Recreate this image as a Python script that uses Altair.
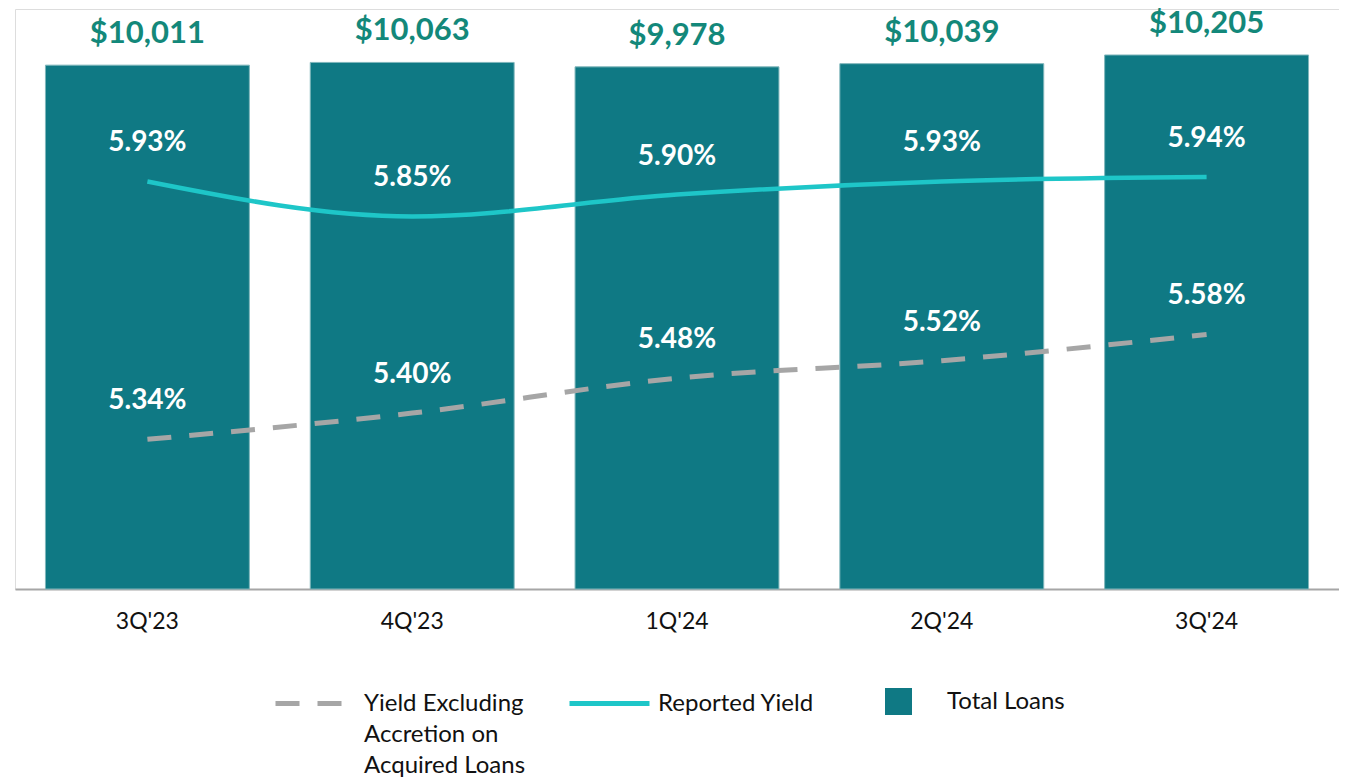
import altair as alt
import pandas as pd

quarters = ["3Q'23", "4Q'23", "1Q'24", "2Q'24", "3Q'24"]
total_loans = [10011, 10063, 9978, 10039, 10205]
reported_yield = [5.93, 5.85, 5.90, 5.93, 5.94]
yield_excl = [5.34, 5.40, 5.48, 5.52, 5.58]

series_names = ["Yield Excluding Accretion on Acquired Loans", "Reported Yield", "Total Loans"]
series_colors = ["#A6A6A6", "#1EC6C8", "#0F7984"]

df = pd.DataFrame({"q": quarters, "loans": total_loans, "rep": reported_yield, "exc": yield_excl})

FONT = "Lato"
EXC, REP, TOT = series_names

x_enc = alt.X(
    "q:N", sort=quarters,
    scale=alt.Scale(paddingInner=0.23, paddingOuter=0.115),
    axis=alt.Axis(title=None, labelAngle=0, ticks=False, tickSize=0, domainColor="#A6A6A6",
                  domainWidth=2, labelFont=FONT, labelFontSize=23, labelColor="#111111",
                  labelPadding=21),
)
loan_scale = alt.Scale(domain=[0, 11084], nice=False, zero=True)
yield_scale = alt.Scale(domain=[4.9975, 6.3247], nice=False, zero=False)

leg_common = dict(title=None, orient="none", labelFont=FONT, labelFontSize=24,
                  labelColor="#111111", labelLimit=400, padding=0, symbolOpacity=1,
                  labelBaseline="middle")

legend_exc = alt.Legend(
    legendX=258, legendY=659, symbolType="stroke", symbolSize=4356, symbolStrokeWidth=5,
    symbolStrokeColor=series_colors[0], labelOffset=20,
    labelExpr="['Yield Excluding', 'Accretion on', 'Acquired Loans']",
    **leg_common,
)
legend_rep = alt.Legend(
    legendX=552, legendY=652, symbolType="stroke", symbolSize=6400, symbolStrokeWidth=5,
    labelOffset=6, **leg_common,
)
legend_tot = alt.Legend(
    legendX=870, legendY=679, symbolType="square", symbolSize=729, symbolStrokeWidth=0,
    labelOffset=35, **leg_common,
)

base = alt.Chart(df)

bars = base.transform_calculate(series=f"'{TOT}'").mark_bar(
    stroke="#7FB6BB", strokeWidth=1
).encode(
    x=x_enc,
    y=alt.Y("loans:Q", scale=loan_scale, axis=None),
    fill=alt.Fill("series:N", scale=alt.Scale(domain=[TOT], range=[series_colors[2]]),
                  legend=legend_tot),
)

bar_text = base.mark_text(
    font=FONT, fontWeight="bold", fontSize=31, color="#13887A", dy=-31, baseline="middle"
).encode(
    x=x_enc,
    y=alt.Y("loans:Q", scale=loan_scale, axis=None),
    text=alt.Text("loans:Q", format="$,"),
)

line_exc = base.transform_calculate(series=f"'{EXC}'").mark_line(
    strokeWidth=5, color=series_colors[0], interpolate="monotone"
).encode(
    x=x_enc,
    y=alt.Y("exc:Q", scale=yield_scale, axis=None),
    strokeDash=alt.StrokeDash("series:N", scale=alt.Scale(domain=[EXC], range=[[24, 18]]),
                              legend=legend_exc),
)

line_rep = base.transform_calculate(series=f"'{REP}'").mark_line(
    strokeWidth=4.5, interpolate="monotone"
).encode(
    x=x_enc,
    y=alt.Y("rep:Q", scale=yield_scale, axis=None),
    color=alt.Color("series:N", scale=alt.Scale(domain=[REP], range=[series_colors[1]]),
                    legend=legend_rep),
)

pct_style = dict(font=FONT, fontWeight="bold", fontSize=28, color="white", dy=-38, baseline="middle")

txt_rep = base.transform_calculate(lbl="format(datum.rep, '.2f') + '%'").mark_text(**pct_style).encode(
    x=x_enc, y=alt.Y("rep:Q", scale=yield_scale, axis=None), text="lbl:N"
)
txt_exc = base.transform_calculate(lbl="format(datum.exc, '.2f') + '%'").mark_text(**pct_style).encode(
    x=x_enc, y=alt.Y("exc:Q", scale=yield_scale, axis=None), text="lbl:N"
)

chart = alt.layer(bars, bar_text, line_exc, line_rep, txt_rep, txt_exc).resolve_scale(
    y="independent"
).properties(
    width=1324, height=580,
    autosize=alt.AutoSizeParams(type="none"),
    padding={"left": 7, "top": 1, "right": 0, "bottom": 191},
    background="white",
).configure_view(stroke=None).configure(style={"guide-label": {"lineHeight": 31}})

chart.save("out.html", embed_options={"renderer": "svg", "actions": False})
